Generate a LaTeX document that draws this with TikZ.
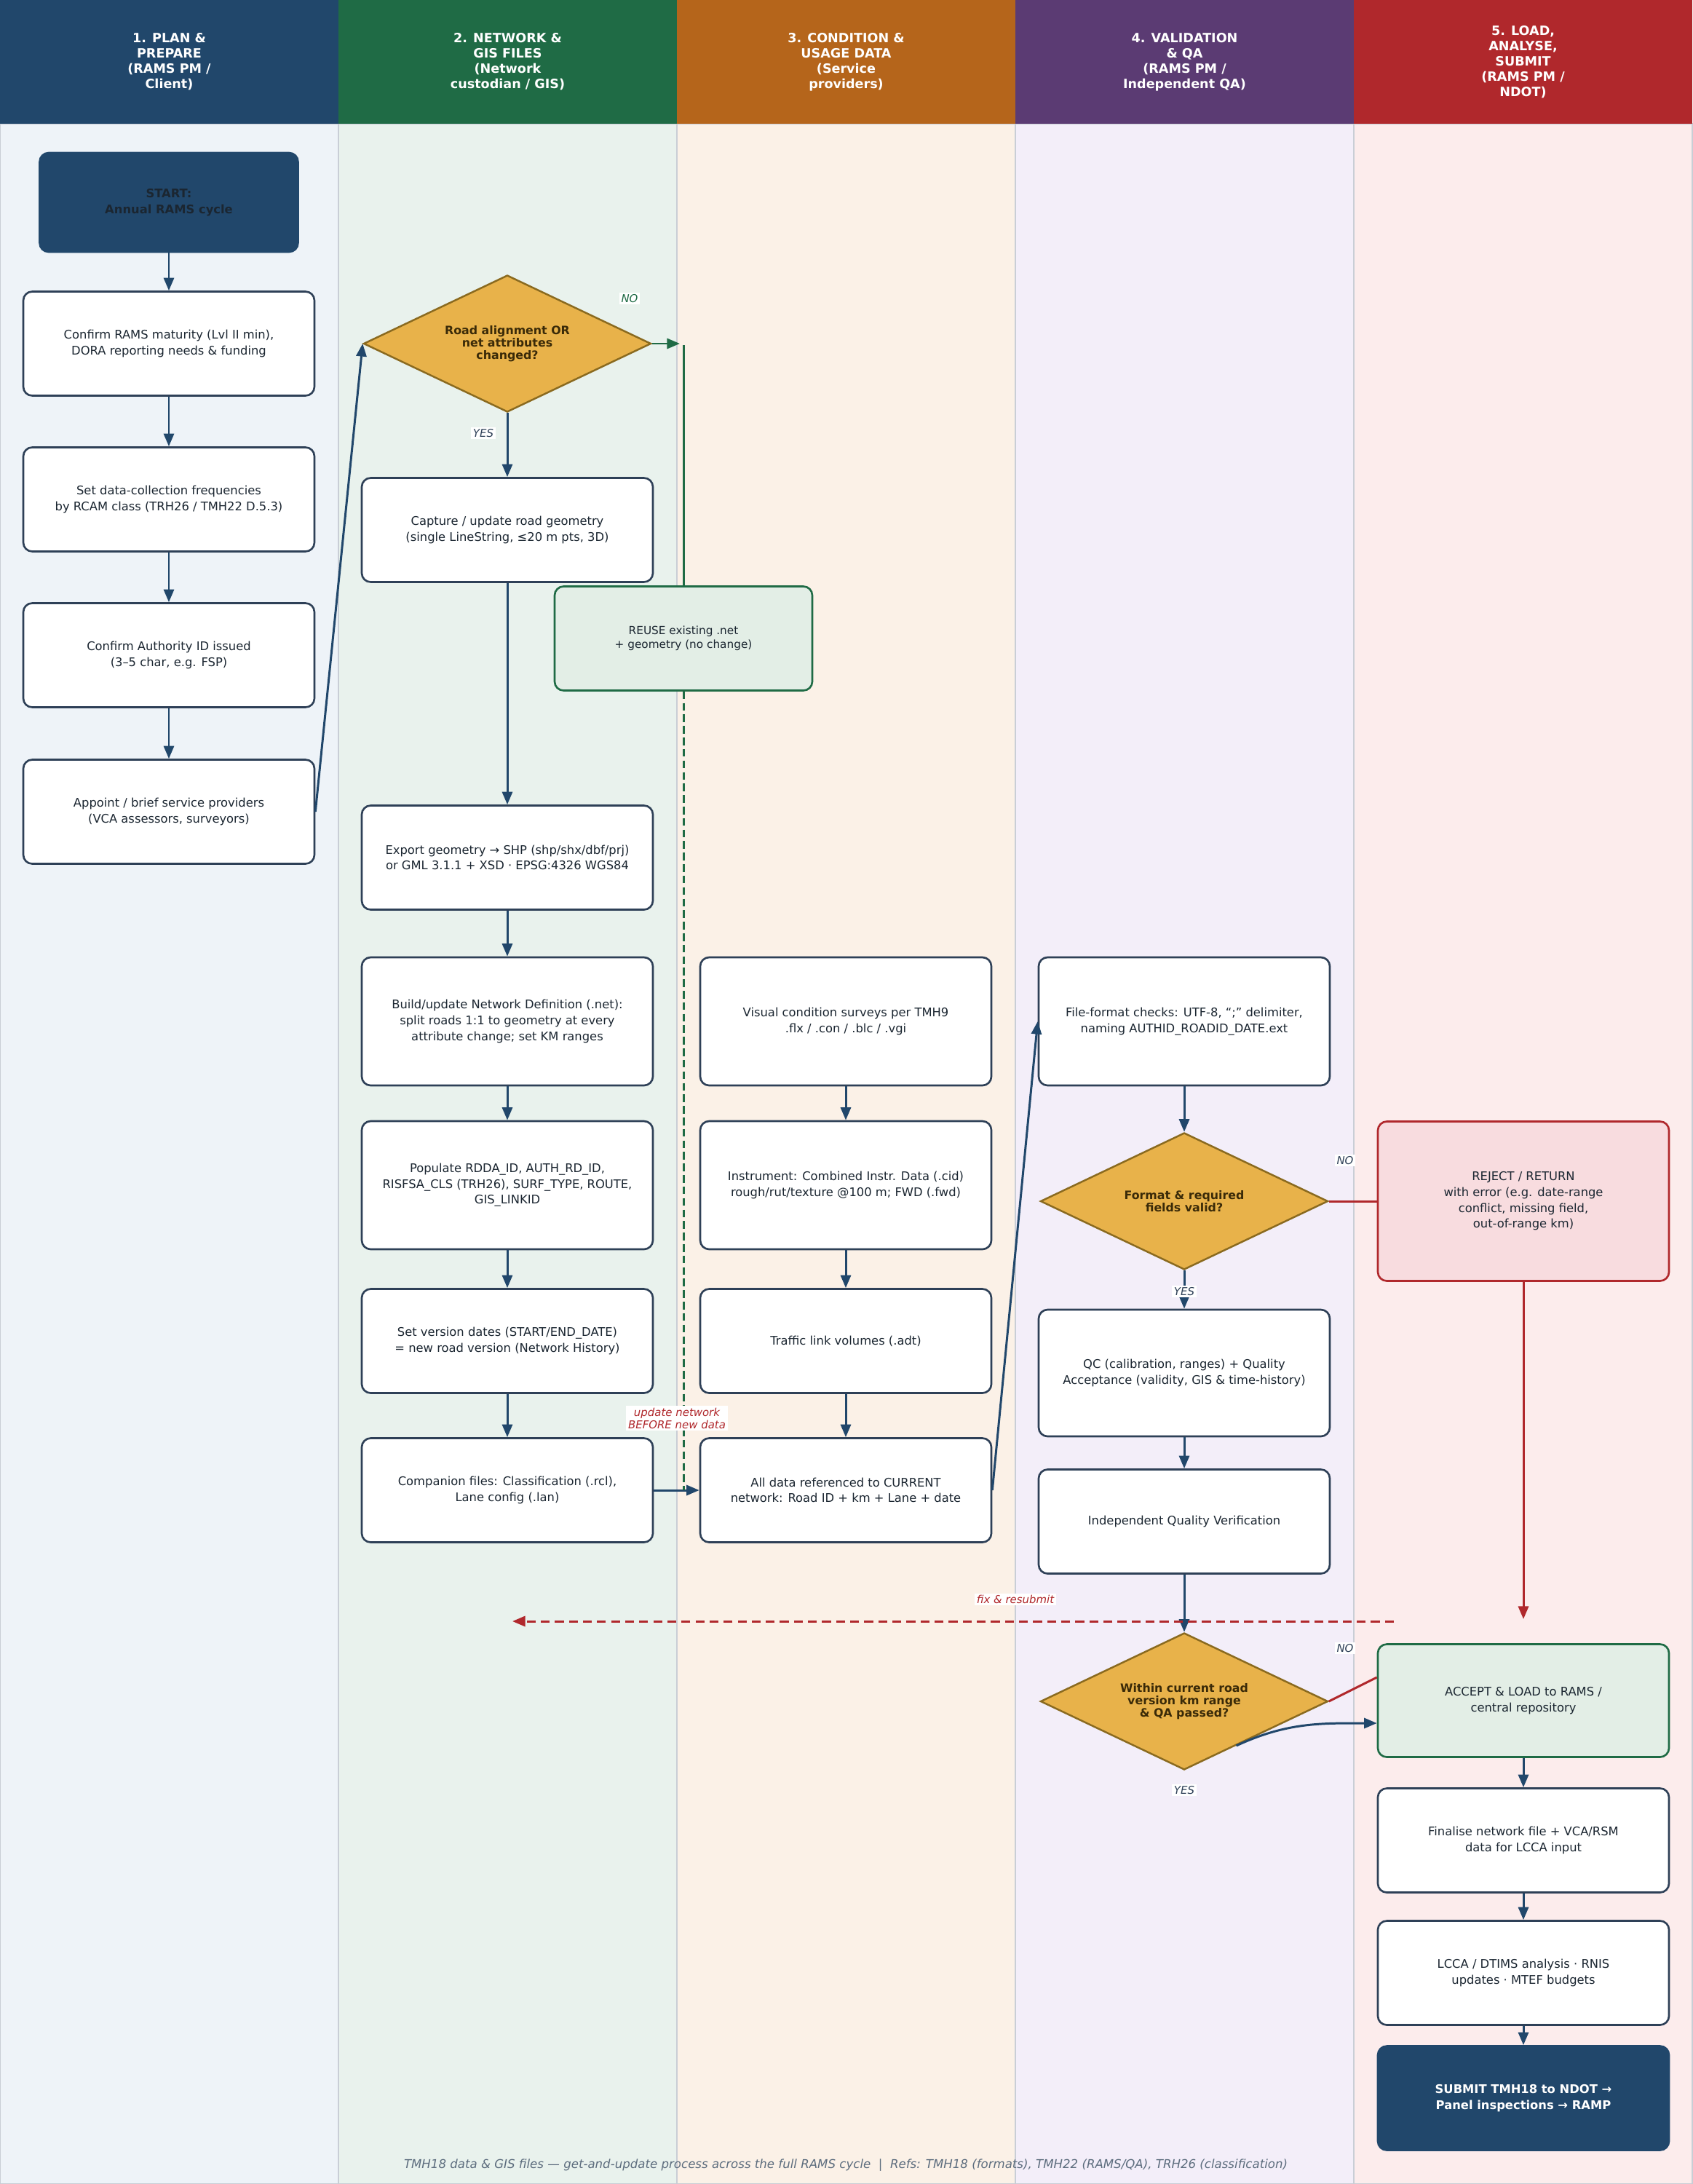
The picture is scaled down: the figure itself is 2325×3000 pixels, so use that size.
\documentclass[tikz,border=0pt]{standalone}
\usepackage{fontspec}
\setmainfont{DejaVu Sans}
\usetikzlibrary{calc}
\usetikzlibrary{shapes.geometric}
\usetikzlibrary{arrows.meta}

\definecolor{planc}{HTML}{21476B}
\definecolor{netc}{HTML}{1F6B45}
\definecolor{condc}{HTML}{B5651B}
\definecolor{valc}{HTML}{5B3B73}
\definecolor{loadc}{HTML}{B0282C}
\definecolor{planbg}{HTML}{EEF3F8}
\definecolor{netbg}{HTML}{E9F2ED}
\definecolor{condbg}{HTML}{FBF1E7}
\definecolor{valbg}{HTML}{F3EEF9}
\definecolor{loadbg}{HTML}{FCECEC}
\definecolor{boxline}{HTML}{2E4057}
\definecolor{ink}{HTML}{1B2631}
\definecolor{gold}{HTML}{E8B24A}
\definecolor{goldline}{HTML}{8A6A1F}
\definecolor{goldink}{HTML}{3A2A08}
\definecolor{okfill}{HTML}{E3EEE6}
\definecolor{badfill}{HTML}{F8DCDF}
\definecolor{lanesep}{HTML}{C9CED6}
\definecolor{footc}{HTML}{5D6D7E}

\begin{document}
\begin{tikzpicture}[x=0.2mm,y=0.2mm,
    head/.style={fill=#1, minimum width=9.3cm, minimum height=3.4cm, inner sep=0pt,
      align=center, text=white, font=\bfseries\fontsize{10}{12}\selectfont},
    box/.style={draw=boxline, line width=1.5pt, rounded corners=7pt, fill=white,
      minimum width=8cm, minimum height=2.86cm, align=center, text=ink,
      font=\fontsize{9.3}{12.3}\selectfont},
    tallbox/.style={box, minimum height=3.52cm},
    decision/.style={diamond, aspect=2.1, draw=goldline, line width=1.4pt, fill=gold,
      minimum width=7.9cm, minimum height=3.76cm, inner sep=0pt, align=center,
      text=goldink, font=\bfseries\fontsize{9}{9.8}\selectfont},
    tag/.style={fill=white, inner sep=1.5pt, text=boxline,
      font=\itshape\fontsize{8.5}{9.6}\selectfont},
    flow/.style={draw=planc, line width=1.7pt, -{Triangle[length=10pt,width=8pt]}},
    netflow/.style={draw=netc, line width=1.7pt},
    redflow/.style={draw=loadc, line width=1.7pt},
  ]
    \useasboundingbox (0,0) rectangle (2325,-3000);
    \fill[planbg] (0,-170) rectangle (465,-3000);
    \fill[netbg] (465,-170) rectangle (930,-3000);
    \fill[condbg] (930,-170) rectangle (1395,-3000);
    \fill[valbg] (1395,-170) rectangle (1860,-3000);
    \fill[loadbg] (1860,-170) rectangle (2325,-3000);
    \draw[lanesep, line width=0.8pt] (0,-170) rectangle (2325,-3000);
    \draw[lanesep, line width=0.8pt] (465,-170) -- (465,-3000);
    \draw[lanesep, line width=0.8pt] (930,-170) -- (930,-3000);
    \draw[lanesep, line width=0.8pt] (1395,-170) -- (1395,-3000);
    \draw[lanesep, line width=0.8pt] (1860,-170) -- (1860,-3000);

    \node[head=planc] (h1) at (232.5,-85) {1. PLAN \&\\PREPARE\\(RAMS PM /\\Client)};
    \node[head=netc]  (h2) at (697.5,-85) {2. NETWORK \&\\GIS FILES\\(Network\\custodian / GIS)};
    \node[head=condc] (h3) at (1162.5,-85) {3. CONDITION \&\\USAGE DATA\\(Service\\providers)};
    \node[head=valc]  (h4) at (1627.5,-85) {4. VALIDATION\\\& QA\\(RAMS PM /\\Independent QA)};
    \node[head=loadc] (h5) at (2092.5,-85) {5. LOAD,\\ANALYSE,\\SUBMIT\\(RAMS PM /\\NDOT)};

    \node[box, fill=planc, draw=planc, minimum width=7.1cm, minimum height=2.72cm,
      font=\bfseries\fontsize{9.3}{12.3}\selectfont, text=ink] (start) at (232,-278) {START:\\Annual RAMS cycle};
    \node[box] (p1) at (232,-472) {Confirm RAMS maturity (Lvl II min),\\DORA reporting needs \& funding};
    \node[box] (p2) at (232,-686) {Set data-collection frequencies\\by RCAM class (TRH26 / TMH22 D.5.3)};
    \node[box] (p3) at (232,-900) {Confirm Authority ID issued\\(3–5 char, e.g. FSP)};
    \node[box] (p4) at (232,-1115) {Appoint / brief service providers\\(VCA assessors, surveyors)};

    \node[decision] (dec1) at (697,-472) {Road alignment OR\\net attributes\\changed?};
    \node[box] (geo) at (697,-728) {Capture / update road geometry\\(single LineString, ≤20 m pts, 3D)};
    \node[box, draw=netc, fill=okfill, minimum width=7.08cm,
      font=\fontsize{8.7}{10.6}\selectfont] (reuse) at (939,-877) {REUSE existing .net\\+ geometry (no change)};
    \node[box] (exp) at (697,-1178) {Export geometry → SHP (shp/shx/dbf/prj)\\or GML 3.1.1 + XSD · EPSG:4326 WGS84};
    \node[tallbox] (net) at (697,-1403) {Build/update Network Definition (.net):\\split roads 1:1 to geometry at every\\attribute change; set KM ranges};
    \node[tallbox] (pop) at (697,-1628) {Populate RDDA\_ID, AUTH\_RD\_ID,\\RISFSA\_CLS (TRH26), SURF\_TYPE, ROUTE,\\GIS\_LINKID};
    \node[box] (ver) at (697,-1842) {Set version dates (START/END\_DATE)\\= new road version (Network History)};
    \node[box] (comp) at (697,-2047) {Companion files: Classification (.rcl),\\Lane config (.lan)};

    \node[tallbox] (vis) at (1162,-1403) {Visual condition surveys per TMH9\\.flx / .con / .blc / .vgi};
    \node[tallbox] (ins) at (1162,-1628) {Instrument: Combined Instr. Data (.cid)\\rough/rut/texture @100 m; FWD (.fwd)};
    \node[box] (trf) at (1162,-1842) {Traffic link volumes (.adt)};
    \node[box] (ref) at (1162,-2047) {All data referenced to CURRENT\\network: Road ID + km + Lane + date};

    \node[tallbox] (fmt) at (1627,-1403) {File-format checks: UTF-8, “;” delimiter,\\naming AUTHID\_ROADID\_DATE.ext};
    \node[decision] (dec2) at (1627,-1650) {Format \& required\\fields valid?};
    \node[box, minimum height=3.48cm] (qc) at (1627,-1886) {QC (calibration, ranges) + Quality\\Acceptance (validity, GIS \& time-history)};
    \node[box] (iqv) at (1627,-2090) {Independent Quality Verification};
    \node[decision] (dec3) at (1627,-2337) {Within current road\\version km range\\\& QA passed?};

    \node[box, draw=loadc, fill=badfill, minimum height=4.38cm] (rej) at (2093,-1650) {REJECT / RETURN\\with error (e.g. date-range\\conflict, missing field,\\out-of-range km)};
    \node[box, draw=netc, fill=okfill, minimum height=3.1cm] (acc) at (2093,-2336) {ACCEPT \& LOAD to RAMS /\\central repository};
    \node[box] (fin) at (2093,-2528) {Finalise network file + VCA/RSM\\data for LCCA input};
    \node[box] (lcca) at (2093,-2710) {LCCA / DTIMS analysis · RNIS\\updates · MTEF budgets};
    \node[box, fill=planc, draw=planc, text=white,
      font=\bfseries\fontsize{9.3}{12.3}\selectfont] (sub) at (2093,-2882) {SUBMIT TMH18 to NDOT →\\Panel inspections → RAMP};

    \coordinate (noend) at (934,-472);
    \coordinate (gtop) at (939,-474);
    \coordinate (gbot) at (939,-2047);
    \coordinate (rejend) at (2093,-2224);
    \coordinate (fixfrom) at (1915,-2227);
    \coordinate (fixto) at (704,-2227);

    \draw (start) edge[flow] (p1);
    \draw (p1) edge[flow] (p2);
    \draw (p2) edge[flow] (p3);
    \draw (p3) edge[flow] (p4);
    \draw (p4.east) edge[flow] (dec1.west);
    \draw (dec1) edge[flow] (geo);
    \draw (geo) edge[flow] (exp);
    \draw (exp) edge[flow] (net);
    \draw (net) edge[flow] (pop);
    \draw (pop) edge[flow] (ver);
    \draw (ver) edge[flow] (comp);
    \draw (comp) edge[flow] (ref);
    \draw (vis) edge[flow] (ins);
    \draw (ins) edge[flow] (trf);
    \draw (trf) edge[flow] (ref);
    \draw (ref.east) edge[flow] (fmt.west);
    \draw (fmt) edge[flow] (dec2);
    \draw (dec2) edge[flow] (qc);
    \draw (qc) edge[flow] (iqv);
    \draw (iqv) edge[flow] (dec3);
    \draw (acc) edge[flow] (fin);
    \draw (fin) edge[flow] (lcca);
    \draw (lcca) edge[flow] (sub);

    \draw[netflow, -{Triangle[length=10pt,width=8pt]}] (dec1.east) -- (noend);
    \draw[netflow] (gtop) -- (reuse.north);
    \draw[netflow, dashed, dash pattern=on 6pt off 3pt] (reuse.south) -- (gbot);

    \draw[redflow] (dec2.east) -- (rej.west);
    \draw[redflow, -{Triangle[length=10pt,width=8pt]}] (rej.south) -- (rejend);
    \draw[redflow] (dec3.east) -- ($(acc.west)+(0,32)$);
    \draw[redflow, dashed, dash pattern=on 7pt off 4pt, -{Triangle[length=10pt,width=8pt]}] (fixfrom) -- (fixto);
    \draw[flow] ($(dec3.east)!0.64!(dec3.south)$) to[out=25,in=180] ($(acc.west)+(0,-31)$);

    \node[tag, text=netc] (no1) at (865,-410) {NO};
    \node[tag] (yes1) at (664,-595) {YES};
    \node[tag] (no2) at (1848,-1594) {NO};
    \node[tag] (yes2) at (1627,-1774) {YES};
    \node[tag] (no3) at (1848,-2264) {NO};
    \node[tag] (yes3) at (1627,-2459) {YES};
    \node[tag, text=loadc, align=center] (upd) at (930,-1948) {update network\\BEFORE new data};
    \node[tag, text=loadc] (fix) at (1395,-2197) {fix \& resubmit};

    \node[text=footc, font=\itshape\fontsize{9.45}{11}\selectfont] (foot) at (1162,-2974)
      {TMH18 data \& GIS files — get-and-update process across the full RAMS cycle~~|~~Refs: TMH18 (formats), TMH22 (RAMS/QA), TRH26 (classification)};
\end{tikzpicture}
\end{document}
